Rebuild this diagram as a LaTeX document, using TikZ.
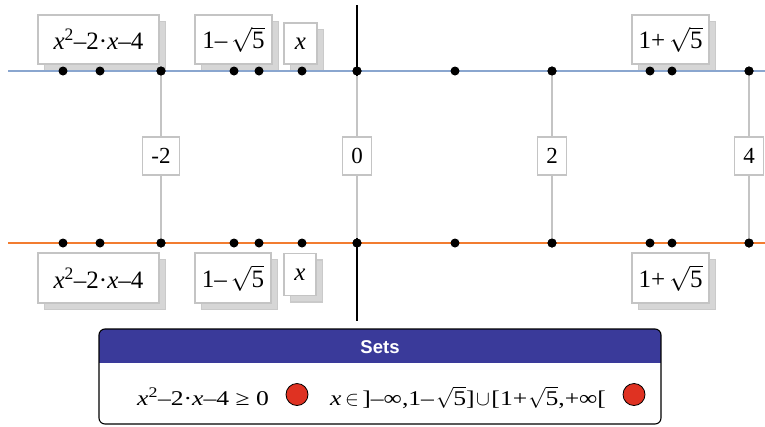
\documentclass[tikz,border=0pt]{standalone}
\usepackage{fontspec}
\setmainfont{Liberation Serif}
\setsansfont{Liberation Sans}
\newfontfamily\widefont[FakeStretch=1.22]{Liberation Serif}
\usetikzlibrary{shadows}
\definecolor{lineblue}{HTML}{8AA6CF}
\definecolor{lineorange}{HTML}{F27C30}
\definecolor{boxgray}{HTML}{C4C4C4}
\definecolor{shadowgray}{HTML}{D6D6D6}
\definecolor{hdrblue}{HTML}{3A3A9A}
\definecolor{dotred}{HTML}{DF3222}
\newcommand\vx{\textit{x}}
\newcommand\expr{\vx\textsuperscript{2}–2·\vx–4}
\newcommand\rtfive{$\sqrt{\mbox{5}}$}
\tikzset{
  lbl/.style={draw=boxgray, line width=1.2pt, fill=white, inner sep=0pt,
    font=\fontsize{25}{29}\selectfont,
    copy shadow={shadow xshift=6.5pt, shadow yshift=-6.5pt, fill=shadowgray, draw=boxgray!90}},
  val/.style={draw=boxgray, line width=1.2pt, fill=white, inner xsep=9pt, inner ysep=0pt,
    minimum height=38pt, font=\fontsize{23}{27}\selectfont},
  dot/.style={circle, fill=black, inner sep=0pt, minimum size=9pt},
  rdot/.style={circle, fill=dotred, draw=black, line width=0.8pt, inner sep=0pt, minimum size=22pt},
  vline/.style={draw=boxgray, line width=1.4pt},
  settext/.style={font=\widefont\fontsize{21}{25}\selectfont, inner sep=0pt, anchor=base west},
}
\begin{document}
\begin{tikzpicture}[x=1pt,y=-1pt]
\useasboundingbox (0,0) rectangle (765,426);
% label boxes top
\node[lbl, minimum width=121pt, minimum height=49pt] (ta) at (98.5,39.5) {\expr};
\node[lbl, minimum width=77pt, minimum height=49pt] (tb) at (233.5,39.5) {1–\,\rtfive};
\node[lbl, minimum width=33pt, minimum height=41pt] (tc) at (300.5,43.5) {\vx};
\node[lbl, minimum width=77pt, minimum height=49pt] (td) at (670.5,39.5) {1+\,\rtfive};
% label boxes bottom
\node[lbl, minimum width=121pt, minimum height=50pt] (ba) at (98.5,278) {\expr};
\node[lbl, minimum width=76pt, minimum height=50pt] (bb) at (233,278) {1–\,\rtfive};
\node[lbl, minimum width=32pt, minimum height=42pt] (bc) at (300,274.5) {\vx};
\node[lbl, minimum width=77pt, minimum height=50pt] (bd) at (670.5,278) {1+\,\rtfive};
% axis
\coordinate (axT) at (357,5);
\coordinate (axB) at (357,321);
\draw[line width=1.4pt] (axT) -- (axB);
% lines
\coordinate (l1) at (8,71);
\coordinate (r1) at (765,71);
\coordinate (l2) at (8,243);
\coordinate (r2) at (765,243);
\draw[lineblue, line width=1.6pt] (l1) -- (r1);
\draw[lineorange, line width=1.6pt] (l2) -- (r2);
% dots
\foreach \i/\x in {1/63,2/100,3/161,4/234,5/259,6/302,7/357,8/455,9/552,10/650,11/672,12/749}{
  \node[dot] (t\i) at (\x,71) {};
  \node[dot] (b\i) at (\x,243) {};
}
% value boxes and vertical connectors
\node[val] (vm2) at (161,156) {-2};
\node[val] (v0) at (357,156) {0};
\node[val] (v2) at (552,156) {2};
\node[val] (v4) at (749,156) {4};
\draw[vline] (t3) -- (vm2) -- (b3);
\draw[vline] (t9) -- (v2) -- (b9);
\draw[vline] (t12) -- (v4) -- (b12);
\draw[vline] (t7) -- (v0) -- (b7);
\foreach \n in {t3,b3,t7,b7,t9,b9,t12,b12}{\node[dot] at (\n) {};}
% sets panel
\begin{scope}
\clip[rounded corners=6pt] (99,329) rectangle (661,424);
\fill[hdrblue] (99,329) rectangle (661,363);
\end{scope}
\draw[rounded corners=6pt, line width=1.1pt] (99,329) rectangle (661,424);
\node[text=white, font=\sffamily\bfseries\fontsize{18.5}{22}\selectfont] (hdr) at (380,347) {Sets};
\node[settext] (s1) at (137,405) {\expr{} ≥ 0};
\node[rdot] (c1) at (297,394.5) {};
\node[settext] (s2) at (330,405) {\vx\,$\in$\,]–∞,1–\hspace{2pt}\rtfive]\hspace{1.5pt}$\cup$\hspace{1.5pt}[1+\hspace{1pt}\rtfive,+∞[};
\node[rdot] (c2) at (634,394.5) {};
\end{tikzpicture}
\end{document}
